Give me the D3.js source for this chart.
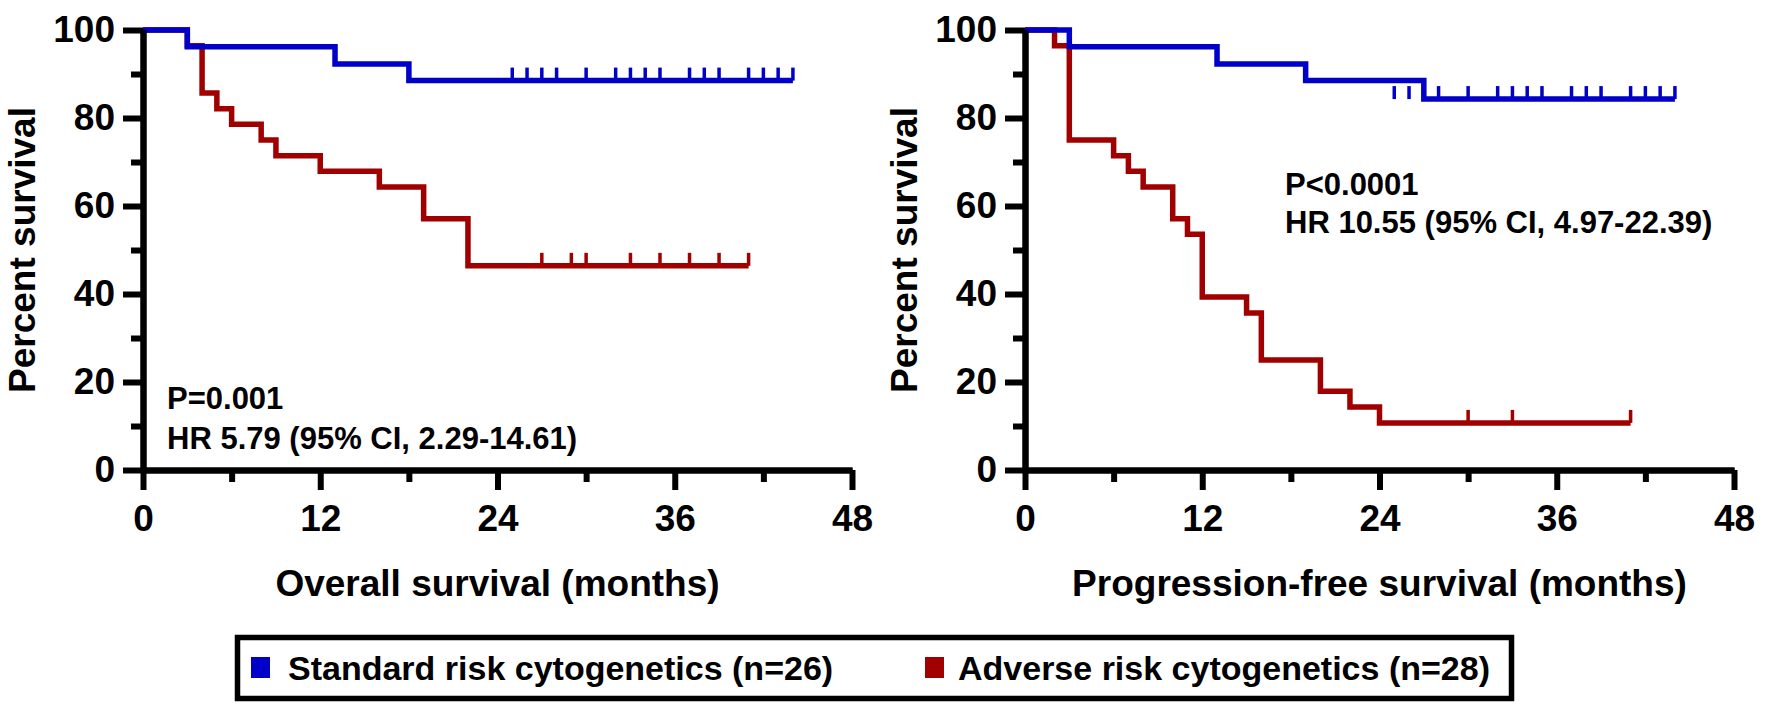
<!DOCTYPE html>
<html lang="en">
<head>
    <meta charset="UTF-8">
    <title>Survival by cytogenetic risk</title>
    <script src="https://cdnjs.cloudflare.com/ajax/libs/d3/7.8.5/d3.min.js"></script>
    <style>
        body {
            margin: 0;
            background: #fff;
        }
        svg text {
            font-family: "Liberation Sans", Arial, sans-serif;
            font-weight: bold;
            fill: #000;
        }
    </style>
</head>
<body>
    <svg id="chart" width="1772" height="717"></svg>

    <script>
        // Overall survival, standard risk (n=26)
        const osStdTime = [0, 3, 13, 18];
        const osStdSurv = [100, 96.2, 92.3, 88.5];
        const osStdCens = [25, 26, 27, 28, 30, 32, 33, 34, 35, 37, 38, 39, 41, 42, 43, 44];
        const osStdEnd = 44;

        // Overall survival, adverse risk (n=28)
        const osAdvTime = [0, 3, 4, 5, 6, 8, 9, 12, 16, 19, 22];
        const osAdvSurv = [100, 96.4, 85.7, 82.1, 78.6, 75.0, 71.4, 67.9, 64.3, 57.1, 46.4];
        const osAdvCens = [27, 29, 30, 33, 35, 37, 39, 41];
        const osAdvEnd = 41;

        // Progression-free survival, standard risk
        const pfsStdTime = [0, 3, 13, 19, 27];
        const pfsStdSurv = [100, 96.2, 92.3, 88.5, 84.3];
        const pfsStdCens = [25, 26, 28, 30, 32, 33, 34, 35, 37, 38, 39, 41, 42, 43, 44];
        const pfsStdEnd = 44;

        // Progression-free survival, adverse risk
        const pfsAdvTime = [0, 2, 3, 6, 7, 8, 10, 11, 12, 15, 16, 20, 22, 24];
        const pfsAdvSurv = [100, 96.4, 75.0, 71.4, 67.9, 64.3, 57.1, 53.6, 39.3, 35.7, 25.0, 17.9, 14.3, 10.7];
        const pfsAdvCens = [30, 33, 41];
        const pfsAdvEnd = 41;

        const yMajor = [0, 20, 40, 60, 80, 100];
        const yMinor = [10, 30, 50, 70, 90];
        const xMajor = [0, 12, 24, 36, 48];
        const xMinor = [6, 18, 30, 42];

        const legendLabels = ["Standard risk cytogenetics (n=26)", "Adverse risk cytogenetics (n=28)"];
        const BLUE = "#0000c8";
        const RED = "#a00000";

        const svg = d3.select("#chart");

        const panels = [
            {
                left: 143, title: "Overall survival (months)",
                curves: [
                    {t: osAdvTime, s: osAdvSurv, c: osAdvCens, end: osAdvEnd, color: RED},
                    {t: osStdTime, s: osStdSurv, c: osStdCens, end: osStdEnd, color: BLUE}
                ],
                note: ["P=0.001", "HR 5.79 (95% CI, 2.29-14.61)"], noteX: 167, noteY: [409, 449]
            },
            {
                left: 1025, title: "Progression-free survival (months)",
                curves: [
                    {t: pfsAdvTime, s: pfsAdvSurv, c: pfsAdvCens, end: pfsAdvEnd, color: RED},
                    {t: pfsStdTime, s: pfsStdSurv, c: pfsStdCens, end: pfsStdEnd, color: BLUE}
                ],
                note: ["P<0.0001", "HR 10.55 (95% CI, 4.97-22.39)"], noteX: 1285, noteY: [195, 233]
            }
        ];

        const plotW = 709, yTop = 30, yBottom = 470;

        panels.forEach(p => {
            const x = d3.scaleLinear().domain([0, 48]).range([p.left, p.left + plotW]);
            const y = d3.scaleLinear().domain([0, 100]).range([yBottom, yTop]);

            // step curves with censor marks
            p.curves.forEach(cv => {
                const pts = [];
                cv.t.forEach((t, i) => {
                    if (i > 0) pts.push([t, cv.s[i - 1]]);
                    pts.push([t, cv.s[i]]);
                });
                pts.push([cv.end, cv.s[cv.s.length - 1]]);

                svg.append("path")
                    .attr("d", d3.line().x(d => x(d[0])).y(d => y(d[1]))(pts))
                    .attr("fill", "none")
                    .attr("stroke", cv.color)
                    .attr("stroke-width", 5.5)
                    .attr("stroke-linejoin", "miter")
                    .attr("stroke-linecap", "butt");

                const last = cv.s[cv.s.length - 1];
                svg.selectAll(null)
                    .data(cv.c)
                    .enter()
                    .append("line")
                    .attr("x1", d => x(d))
                    .attr("x2", d => x(d))
                    .attr("y1", y(last))
                    .attr("y2", y(last) - 13)
                    .attr("stroke", cv.color)
                    .attr("stroke-width", 3.5);
            });

            // axes
            const styleAxis = g => {
                g.select(".domain").attr("stroke", "#000").attr("stroke-width", 6);
                g.selectAll(".tick line").attr("stroke", "#000").attr("stroke-width", 6);
                g.selectAll("text").attr("font-size", 37).attr("fill", "#000")
                    .attr("font-family", "'Liberation Sans', Arial, sans-serif").attr("font-weight", "bold");
            };

            svg.append("g")
                .attr("transform", `translate(0,${yBottom})`)
                .call(d3.axisBottom(x).tickValues(xMinor).tickSize(12).tickFormat("").tickSizeOuter(0))
                .call(styleAxis);
            svg.append("g")
                .attr("transform", `translate(0,${yBottom})`)
                .call(d3.axisBottom(x).tickValues(xMajor).tickSize(20).tickPadding(15).tickSizeOuter(0))
                .call(styleAxis);

            svg.append("g")
                .attr("transform", `translate(${p.left},0)`)
                .call(d3.axisLeft(y).tickValues(yMinor).tickSize(12).tickFormat("").tickSizeOuter(0))
                .call(styleAxis);
            svg.append("g")
                .attr("transform", `translate(${p.left},0)`)
                .call(d3.axisLeft(y).tickValues(yMajor).tickSize(20).tickPadding(8).tickSizeOuter(0))
                .call(styleAxis);

            // axis titles
            svg.append("text")
                .attr("x", p.left + plotW / 2)
                .attr("y", 596)
                .attr("text-anchor", "middle")
                .attr("font-size", 37)
                .text(p.title);

            svg.append("text")
                .attr("transform", `translate(${p.left - 108},${(yTop + yBottom) / 2}) rotate(-90)`)
                .attr("text-anchor", "middle")
                .attr("font-size", 37)
                .text("Percent survival");

            // stats note
            p.note.forEach((line, i) => {
                svg.append("text")
                    .attr("x", p.noteX)
                    .attr("y", p.noteY[i])
                    .attr("font-size", 31)
                    .text(line);
            });
        });

        // legend
        svg.append("rect")
            .attr("x", 237.5).attr("y", 637.5)
            .attr("width", 1274).attr("height", 61)
            .attr("fill", "none")
            .attr("stroke", "#000")
            .attr("stroke-width", 5.5);

        const legendX = [251, 925];
        [BLUE, RED].forEach((col, i) => {
            svg.append("rect")
                .attr("x", legendX[i]).attr("y", 657)
                .attr("width", 19).attr("height", 21)
                .attr("fill", col);
            svg.append("text")
                .attr("x", i === 0 ? 288 : 958)
                .attr("y", 680)
                .attr("font-size", 34)
                .text(legendLabels[i]);
        });
    </script>
</body>
</html>
